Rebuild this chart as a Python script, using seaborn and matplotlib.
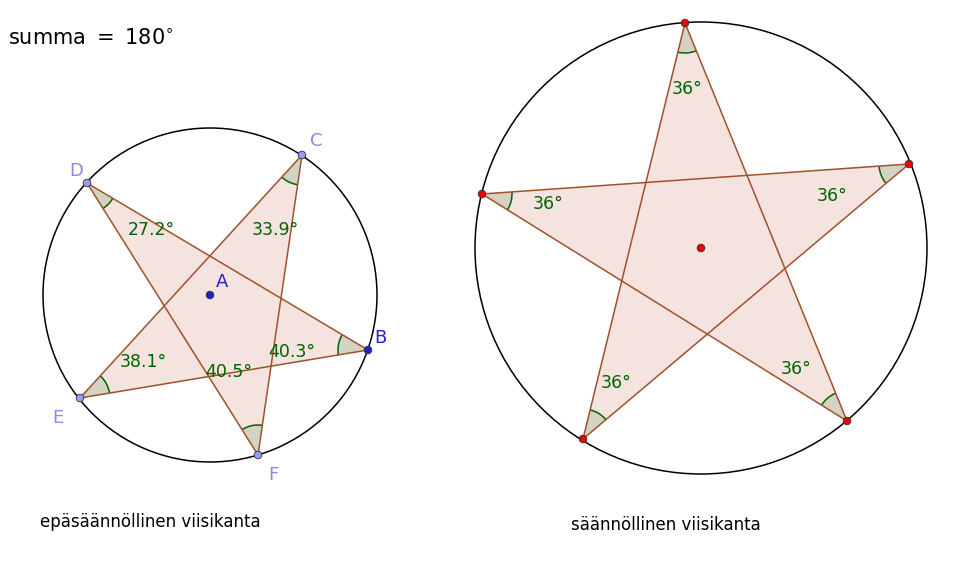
import numpy as np
import matplotlib
matplotlib.use("Agg")
import matplotlib.pyplot as plt
import seaborn as sns
from matplotlib.patches import Circle, Polygon, Wedge, Arc

sns.set_theme(style="white")
plt.rcParams['font.family'] = ['DejaVu Sans']
plt.rcParams['text.color'] = 'black'

# Left (irregular) pentagram: circular order C, D, E, F, B
left_names = ["C", "D", "E", "F", "B"]
left_x = [302, 87, 80, 258, 368]
left_y = [155, 183, 398, 455, 350]
left_angles = ["33.9°", "27.2°", "38.1°", "40.5°", "40.3°"]
left_label_x = [252, 128, 120, 205, 268]
left_label_y = [230, 230, 362, 372, 352]
left_center = (210, 295)
left_radius = 167

# Right (regular) pentagram
right_x = [685, 482, 583, 847, 909]
right_y = [23, 194, 439, 421, 164]
right_angles = ["36°"] * 5
right_label_x = [672, 533, 601, 781, 817]
right_label_y = [89, 204, 383, 369, 196]
right_center = (701, 248)
right_radius = 226

fig = plt.figure(figsize=(9.6, 5.77), dpi=100)
ax = fig.add_axes([0, 0, 1, 1])
ax.set_xlim(0, 960)
ax.set_ylim(577, 0)
ax.set_aspect("equal")
ax.axis("off")

brown = "#a0522d"
green = "#006400"

def draw_star(xs, ys, labels, lx, ly, center, radius, ptcolors):
    ax.add_patch(Circle(center, radius, fill=False, ec="black", lw=1.1, zorder=1))
    n = len(xs)
    order = [(i * 2) % n for i in range(n)]
    pts = [(xs[i], ys[i]) for i in order]
    ax.add_patch(Polygon(pts, closed=True, fc="#f4e3df", ec="none", zorder=2))
    for i in range(n):
        j = (i + 2) % n
        ax.plot([xs[i], xs[j]], [ys[i], ys[j]], color=brown, lw=1.1, zorder=4)
    for i in range(n):
        a1 = np.degrees(np.arctan2(ys[(i + 2) % n] - ys[i], xs[(i + 2) % n] - xs[i]))
        a2 = np.degrees(np.arctan2(ys[(i - 2) % n] - ys[i], xs[(i - 2) % n] - xs[i]))
        lo, hi = sorted([a1, a2])
        if hi - lo > 180:
            lo, hi = hi, lo + 360
        ax.add_patch(Wedge((xs[i], ys[i]), 30, lo, hi, fc="#d3d3c4", ec="none", zorder=3))
        ax.add_patch(Arc((xs[i], ys[i]), 60, 60, theta1=lo, theta2=hi, color=green, lw=1.1, zorder=3))
        ax.text(lx[i], ly[i], labels[i], color=green, fontsize=12.5, va="center", zorder=6)
    ax.scatter(xs, ys, s=30, c=ptcolors, edgecolors="#333333", linewidths=0.6, zorder=5)

draw_star(left_x, left_y, left_angles, left_label_x, left_label_y,
          left_center, left_radius, ["#9999ff", "#9999ff", "#9999ff", "#9999ff", "#2222cc"])
draw_star(right_x, right_y, right_angles, right_label_x, right_label_y,
          right_center, right_radius, ["#ee0000"] * 5)
ax.scatter([left_center[0], right_center[0]], [left_center[1], right_center[1]],
           s=30, c=["#2222cc", "#ee0000"], edgecolors="#333333", linewidths=0.6, zorder=5)

# point labels
name_off = {"C": (8, -14), "D": (-18, -12), "E": (-28, 20), "F": (10, 20), "B": (6, -12)}
for nm, x, y in zip(left_names, left_x, left_y):
    dx, dy = name_off[nm]
    ax.text(x + dx, y + dy, nm, color="#2222cc" if nm == "B" else "#8888ee", fontsize=13, va="center")
ax.text(216, 282, "A", color="#2222cc", fontsize=13, va="center")

ax.text(8, 38, r"summa $=$ 180$^{\circ}$", fontsize=15, va="center", color="black")
ax.text(40, 522, "epäsäännöllinen viisikanta", fontsize=12, va="center", color="black")
ax.text(571, 525, "säännöllinen viisikanta", fontsize=12, va="center", color="black")

fig.savefig("out.png", dpi=100)
